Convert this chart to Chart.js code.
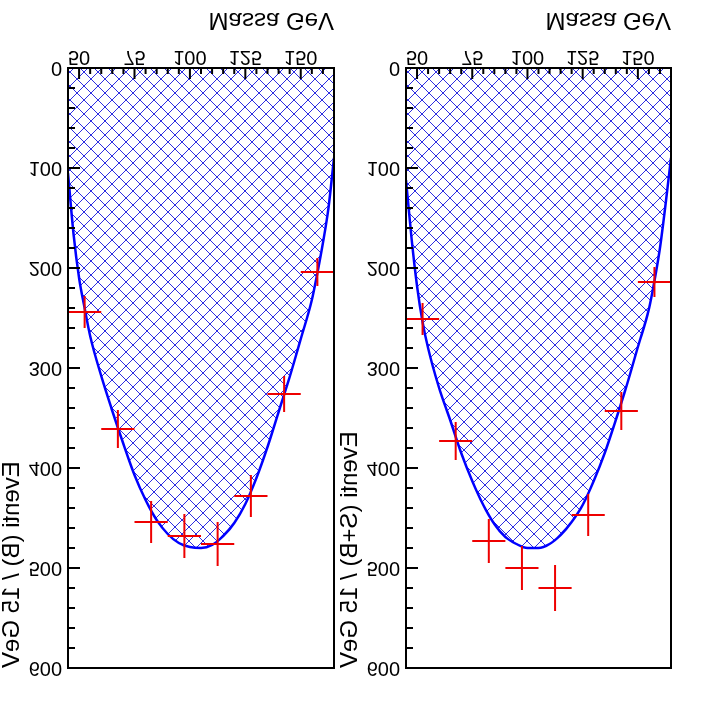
<!DOCTYPE html>
<html><head><meta charset="utf-8">
<script src="https://cdn.jsdelivr.net/npm/chart.js@4"></script>
<style>
html,body{margin:0;padding:0;background:#fff;width:702px;height:702px;overflow:hidden}
.pad{position:absolute;top:0;height:702px;transform:scaleY(-1);transform-origin:50% 50%}
#p1{left:0;width:351px}
#p2{left:338px;width:364px}
canvas{display:block}
</style></head><body>
<div class="pad" id="p1"><canvas id="c1" width="351" height="702"></canvas></div>
<div class="pad" id="p2"><canvas id="c2" width="364" height="702"></canvas></div>
<script>
// ---- data ----
const massBins = [52.5, 67.5, 82.5, 97.5, 112.5, 127.5, 142.5, 157.5];
const binHalfWidth = [7.5, 7.5, 7.5, 7.5, 7.5, 7.5, 7.5, 7.5];
const eventsB = [244, 361, 454, 468, 476, 428, 326, 204];
const errorsB = [16, 19, 21, 22, 22, 21, 18, 14];
const eventsSB = [251, 373, 473, 500, 520, 447, 343, 214];
const errorsSB = [16, 19, 22, 22, 23, 21, 19, 15];
const curveMass = [45, 47.5, 50, 52.5, 55, 60, 65, 70, 75, 80, 85, 90, 95, 100, 105, 110, 115, 120, 125, 130, 135, 140, 145, 150, 155, 157.5, 160, 162.5, 165];
const curveB  = [105, 166, 210, 240, 268, 308, 343, 376, 407, 432, 452, 466, 475, 479, 480, 477, 468, 455, 436, 410, 379, 344, 309, 271, 232, 205, 175, 140, 90];
const curveSB = [112, 170, 218, 254, 280, 320, 352, 385, 413, 437, 456, 469, 476, 480, 480, 476, 467, 454, 437, 413, 385, 352, 317, 279, 241, 213, 180, 137, 90];
const xTickLabels = [50, 75, 100, 125, 150];
const yTickLabels = [0, 100, 200, 300, 400, 500, 600];
const xRange = [45, 165];
const yRange = [0, 600];

const FONT = "'Liberation Sans', Arial, Helvetica, sans-serif";
Chart.defaults.color = '#000';
Chart.defaults.font.family = FONT;

function makeHatch(ctx) {
  const s = 14;
  const c = document.createElement('canvas');
  c.width = s; c.height = s;
  const g = c.getContext('2d');
  const img = g.createImageData(s, s);
  const put = (px, py) => {
    const k = (py * s + px) * 4;
    img.data[k] = 45; img.data[k + 1] = 45; img.data[k + 2] = 225; img.data[k + 3] = 255;
  };
  for (let i = 0; i < s; i++) { put(i, i); put(s - 1 - i, i); }
  g.putImageData(img, 0, 0);
  return ctx.createPattern(c, 'repeat');
}

const framePlugin = {
  id: 'frame',
  afterDraw(chart) {
    const {ctx, chartArea: a, scales: {x, y}} = chart;
    ctx.save();
    ctx.strokeStyle = '#000';
    ctx.lineWidth = 2;
    ctx.beginPath();
    for (let v = x.min; v <= x.max + 1e-6; v += 5) {
      const px = x.getPixelForValue(v);
      const len = xTickLabels.includes(v) ? 11 : 6;
      ctx.moveTo(px, a.bottom); ctx.lineTo(px, a.bottom - len);
    }
    for (let v = y.min; v <= y.max + 1e-6; v += 20) {
      const py = y.getPixelForValue(v);
      const len = yTickLabels.includes(v) ? 12 : 7;
      ctx.moveTo(a.left, py); ctx.lineTo(a.left + len, py);
    }
    ctx.stroke();
    ctx.strokeRect(a.left, a.top, a.right - a.left, a.bottom - a.top);
    ctx.restore();
  }
};

const errorBarPlugin = {
  id: 'errbars',
  afterDatasetsDraw(chart) {
    const {ctx, scales: {x, y}} = chart;
    chart.data.datasets.forEach(ds => {
      if (!ds.errY) return;
      ctx.save();
      ctx.strokeStyle = '#ee0000';
      ctx.lineWidth = 2;
      ctx.beginPath();
      ds.data.forEach((p, i) => {
        const cx = x.getPixelForValue(p.x), cy = y.getPixelForValue(p.y);
        ctx.moveTo(x.getPixelForValue(p.x - ds.errX[i]), cy);
        ctx.lineTo(x.getPixelForValue(p.x + ds.errX[i]), cy);
        ctx.moveTo(cx, y.getPixelForValue(p.y - ds.errY[i]));
        ctx.lineTo(cx, y.getPixelForValue(p.y + ds.errY[i]));
      });
      ctx.stroke();
      ctx.restore();
    });
  }
};

function makePanel(id, curve, events, errors, yTitle, rightPad) {
  const ctx = document.getElementById(id).getContext('2d');
  return new Chart(ctx, {
    type: 'scatter',
    data: {
      datasets: [
        {
          type: 'line',
          data: curveMass.map((m, i) => ({x: m, y: curve[i]})),
          borderColor: '#0000ff',
          borderWidth: 2.5,
          backgroundColor: makeHatch(ctx),
          fill: 'origin',
          pointRadius: 0,
          cubicInterpolationMode: 'monotone',
          order: 2
        },
        {
          type: 'scatter',
          data: massBins.map((m, i) => ({x: m, y: events[i]})),
          errX: binHalfWidth,
          errY: errors,
          pointRadius: 0,
          order: 1
        }
      ]
    },
    options: {
      responsive: false,
      animation: false,
      devicePixelRatio: 1,
      layout: {padding: {top: 34, left: 0, right: rightPad, bottom: 0}},
      plugins: {legend: {display: false}, tooltip: {enabled: false}},
      scales: {
        x: {
          type: 'linear', position: 'bottom', min: xRange[0], max: xRange[1],
          afterBuildTicks: s => { s.ticks = xTickLabels.map(v => ({value: v})); },
          afterFit: s => { s.height = 68; },
          grid: {display: false, drawTicks: false, drawOnChartArea: false},
          border: {display: false},
          ticks: {autoSkip: false, maxRotation: 0, padding: 1, color: '#000',
                  font: {family: FONT, size: 20, lineHeight: 1}},
          title: {display: true, text: 'Massa GeV', align: 'end', color: '#000',
                  font: {family: FONT, size: 24, lineHeight: 1}, padding: {top: 0, bottom: 8}}
        },
        y: {
          type: 'linear', position: 'left', min: yRange[0], max: yRange[1],
          afterBuildTicks: s => { s.ticks = yTickLabels.map(v => ({value: v})); },
          afterFit: s => { s.width = 68; },
          grid: {display: false, drawTicks: false, drawOnChartArea: false},
          border: {display: false},
          ticks: {autoSkip: false, padding: 6, color: '#000',
                  font: {family: FONT, size: 20, lineHeight: 1}},
          title: {display: true, text: yTitle, align: 'end', color: '#000',
                  font: {family: FONT, size: 24, lineHeight: 1}, padding: {top: 0, bottom: 0}}
        }
      }
    },
    plugins: [framePlugin, errorBarPlugin]
  });
}

makePanel('c1', curveB, eventsB, errorsB, 'Eventi (B) / 15 GeV', 17);
makePanel('c2', curveSB, eventsSB, errorsSB, 'Eventi (S+B) / 15 GeV', 31);
</script>
</body></html>
